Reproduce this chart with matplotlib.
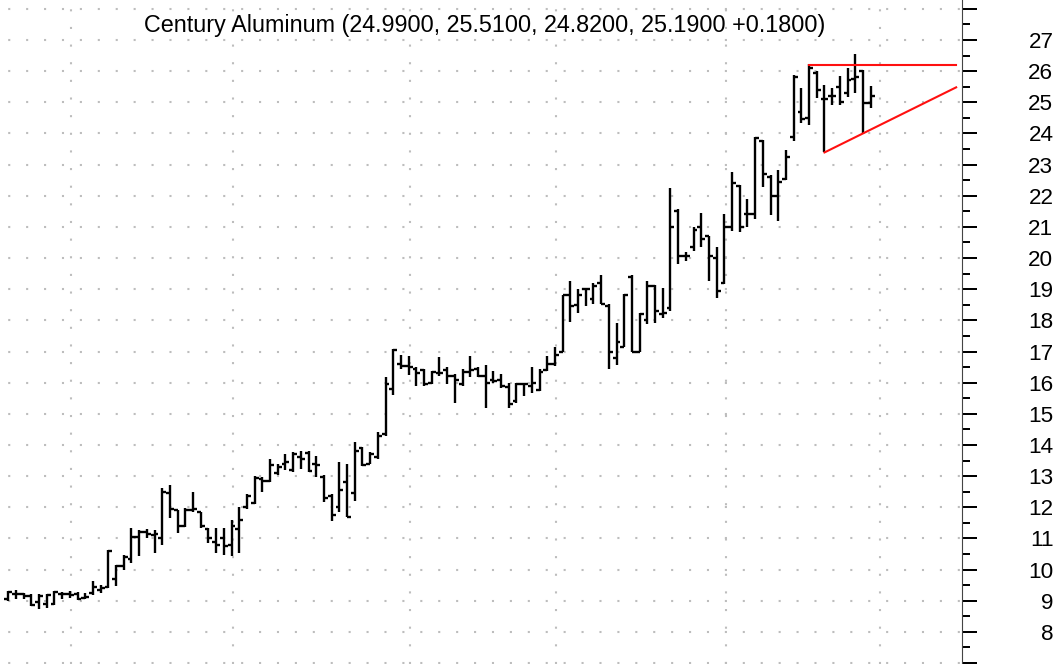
import matplotlib
matplotlib.use('Agg')
import matplotlib.pyplot as plt
import numpy as np

plt.rcParams['font.family'] = ['Liberation Sans', 'DejaVu Sans']
plt.rcParams['lines.scale_dashes'] = False

title_text = "Century Aluminum (24.9900, 25.5100, 24.8200, 25.1900 +0.1800)"

opens = [9.05, 9.2, 9.22, 9.15, 8.95, 8.9, 8.9, 9.2, 9.2, 9.2,
         9.08, 9.25, 9.35, 9.45, 9.7, 10.1, 10.35, 11.05, 11.2, 11.1,
         11.0, 12.45, 11.9, 11.4, 11.9, 11.86, 11.3, 10.9, 11.0, 10.8,
         11.3, 12.0, 12.15, 12.9, 12.85, 13.1, 13.4, 13.2, 13.6, 13.75,
         13.4, 12.98, 12.35, 12.0, 12.8, 12.45, 13.9, 13.4, 13.6, 14.35,
         15.8, 16.6, 16.55, 16.45, 16.4, 16.0, 16.3, 16.4, 16.2, 15.95,
         16.35, 16.45, 16.2, 16.1, 16.1, 15.85, 15.4, 15.95, 15.9, 15.75,
         16.4, 16.6, 17.0, 18.8, 18.5, 19.0, 18.7, 19.2, 18.45, 16.8,
         17.15, 19.4, 17.0, 18.0, 19.1, 18.2, 18.4, 21.5, 20.07, 20.35,
         21.0, 20.7, 20.0, 19.2, 21.0, 22.3, 21.4, 21.4, 23.75, 22.6,
         22.0, 22.55, 23.9, 24.7, 24.5, 25.95, 25.1, 25.2, 25.5, 25.3,
         25.75, 26.0, 24.99]
highs = [9.30, 9.33, 9.25, 9.22, 9.22, 9.22, 9.30, 9.27, 9.30, 9.27,
         9.25, 9.62, 9.51, 10.63, 10.15, 10.47, 11.33, 11.28, 11.30, 11.28,
         12.61, 12.72, 11.92, 11.97, 12.5, 11.86, 11.33, 11.33, 11.33, 11.6,
         12.0, 12.43, 13.0, 12.96, 13.55, 13.39, 13.71, 13.77, 13.82, 13.82,
         13.66, 13.02, 12.43, 13.45, 13.39, 14.09, 13.93, 13.77, 14.41, 16.18,
         17.09, 16.9, 16.85, 16.49, 16.44, 16.38, 16.82, 16.49, 16.28, 16.44,
         16.87, 16.49, 16.57, 16.38, 16.28, 16.0, 16.0, 16.0, 16.49, 16.44,
         16.87, 17.14, 18.82, 19.25, 19.02, 19.01, 19.2, 19.46, 18.51, 17.93,
         18.83, 19.46, 18.25, 19.25, 19.15, 19.04, 22.25, 21.58, 20.18, 20.99,
         21.44, 20.72, 20.34, 21.42, 22.76, 22.33, 21.9, 23.89, 23.78, 22.66,
         22.82, 23.46, 25.89, 25.46, 26.22, 26.0, 25.57, 25.46, 25.84, 26.11,
         26.54, 26.05, 25.51]
lows = [8.98, 9.05, 9.05, 8.82, 8.73, 8.76, 8.87, 9.05, 9.08, 9.03,
        9.05, 9.19, 9.25, 9.41, 9.46, 9.97, 10.21, 10.42, 11.0, 10.53,
        10.8, 11.65, 11.17, 11.38, 11.86, 11.33, 10.85, 10.53, 10.47, 10.42,
        10.53, 11.95, 12.1, 12.48, 12.8, 13.02, 13.18, 13.12, 13.23, 13.12,
        12.96, 12.16, 11.57, 11.84, 11.68, 12.21, 13.34, 13.39, 13.55, 14.3,
        15.59, 16.44, 16.25, 15.9, 15.9, 15.95, 16.22, 15.95, 15.36, 15.9,
        16.17, 16.17, 15.19, 16.0, 15.84, 15.19, 15.36, 15.57, 15.68, 15.73,
        16.38, 16.55, 16.98, 17.94, 18.23, 18.45, 18.51, 18.51, 16.45, 16.56,
        17.14, 16.98, 16.98, 17.88, 17.93, 18.09, 18.3, 19.81, 19.91, 20.24,
        20.34, 19.27, 18.73, 19.16, 20.88, 20.83, 20.99, 21.26, 22.28, 21.37,
        21.2, 22.49, 23.77, 24.32, 24.26, 25.13, 23.39, 24.91, 24.91, 25.18,
        25.29, 23.99, 24.82]
closes = [9.27, 9.22, 9.15, 8.85, 9.15, 9.18, 9.28, 9.2, 9.18, 9.05,
          9.13, 9.45, 9.4, 10.6, 10.1, 10.4, 11.05, 11.2, 11.15, 11.15,
          12.5, 11.95, 11.4, 11.9, 11.95, 11.4, 11.0, 10.8, 10.75, 11.4,
          11.6, 12.35, 12.95, 12.85, 13.35, 13.3, 13.45, 13.7, 13.55, 13.15,
          13.35, 12.3, 11.75, 12.55, 11.7, 13.8, 13.35, 13.7, 14.3, 15.95,
          17.05, 16.55, 16.5, 16.3, 15.95, 16.35, 16.3, 16.2, 16.1, 16.35,
          16.4, 16.2, 16.0, 16.05, 15.9, 15.3, 15.95, 15.95, 16.0, 16.35,
          16.6, 16.9, 18.8, 18.45, 18.8, 19.0, 19.1, 18.52, 17.0, 17.3,
          18.8, 17.0, 18.2, 19.1, 18.3, 18.25, 21.0, 20.07, 20.07, 20.9,
          20.6, 20.07, 18.95, 21.0, 22.4, 21.0, 21.4, 23.85, 22.7, 22.0,
          22.45, 23.25, 25.8, 24.45, 26.1, 25.4, 25.1, 25.2, 25.0, 25.7,
          25.8, 24.97, 25.19]

month_starts = [8.15, 29.15, 52.15, 71.15, 93.15, 113.15]
resistance_x = [104, 123.1]
resistance_y = [26.21, 26.21]
support_x = [106, 123.1]
support_y = [23.39, 25.48]
label_values = list(range(8, 28))
tick_values = list(range(7, 29))

W, H = 1061, 664
fig = plt.figure(figsize=(W / 100, H / 100), dpi=100)
ax = fig.add_axes([0, 0, 962 / W, 1])

n = len(opens)
x = np.arange(n)

grid_kw = dict(color='#bdbdbd', lw=1.5, zorder=0)
for yv in tick_values:
    ax.axhline(yv, linestyle=(7.0, (1.5, 11.4)), **grid_kw)
for xv in month_starts:
    ax.axvline(xv, linestyle=(0, (1.5, 11.2)), **grid_kw)

lw = 1.7
tk = 0.5
ax.vlines(x, lows, highs, color='black', lw=lw, zorder=3)
ax.hlines(opens, x - tk, x, color='black', lw=lw, zorder=3)
ax.hlines(closes, x, x + tk, color='black', lw=lw, zorder=3)

ax.plot(resistance_x, resistance_y, color='#ff1010', lw=1.5, zorder=4)
ax.plot(support_x, support_y, color='#ff1010', lw=1.5, zorder=4)

ax.set_xlim(-1.078, 123.86)
ax.set_ylim(6.968, 28.284)

for s in ['left', 'top', 'bottom']:
    ax.spines[s].set_visible(False)
ax.spines['right'].set_color('#444444')
ax.spines['right'].set_linewidth(0.8)

ax.set_xticks([])
ax.yaxis.tick_right()
ax.set_yticks(tick_values)
ax.set_yticklabels([str(v) if v in label_values else '' for v in tick_values],
                   ha='right')
ax.set_yticks(np.arange(7.5, 28.5, 1.0), minor=True)
ax.tick_params(axis='y', which='major', direction='out', length=10.8, width=1.44,
               color='black', labelsize=16.2, pad=55, labelcolor='black')
ax.tick_params(axis='y', which='minor', direction='out', length=5.5, width=1.44,
               color='black')
ax.patch.set_alpha(0)

fig.text(485 / W, 1 - 31.7 / H, title_text, ha='center', va='baseline',
         fontsize=16.8, color='black')

fig.savefig('out.png', dpi=100, facecolor='white')
